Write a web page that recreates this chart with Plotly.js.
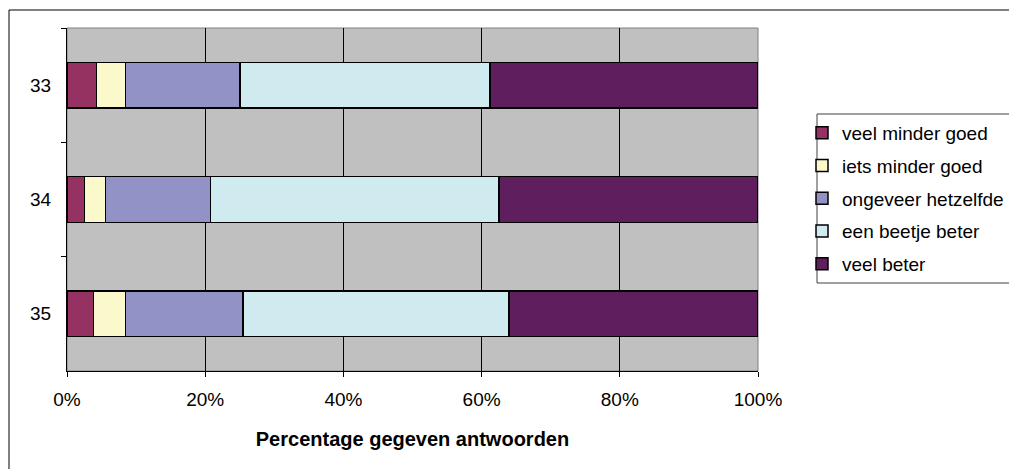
<!DOCTYPE html>
<html>
<head>
<meta charset="utf-8">
<script src="https://cdn.plot.ly/plotly-3.0.1.min.js"></script>
<style>
  html, body { margin: 0; padding: 0; background: #ffffff; }
  #chart { width: 1009px; height: 469px; }
</style>
</head>
<body>
<div id="chart"></div>
<script>
// Question numbers (one horizontal bar each)
const questions = ['33', '34', '35'];

// Answer categories, left to right in each bar
const answerLabels = ['veel minder goed', 'iets minder goed', 'ongeveer hetzelfde', 'een beetje beter', 'veel beter'];
const answerColors = ['#953262', '#FBF8CC', '#9292C6', '#CFEBEF', '#5F1F5F'];

// Share of answers (%) per category, ordered as questions
const veelMinderGoed = [4.3, 2.5, 3.8];
const ietsMinderGoed = [4.2, 3.1, 4.7];
const ongeveerHetzelfde = [16.5, 15.2, 17.0];
const eenBeetjeBeter = [36.2, 41.7, 38.5];
const veelBeter = [38.8, 37.5, 36.0];

const xTicks = [0, 20, 40, 60, 80, 100];
const xTickLabels = xTicks.map(v => v + '%');

const seriesValues = [veelMinderGoed, ietsMinderGoed, ongeveerHetzelfde, eenBeetjeBeter, veelBeter];

const FONT = 'Liberation Sans, Arial, Helvetica, sans-serif';

const traces = seriesValues.map((vals, i) => ({
  type: 'bar',
  orientation: 'h',
  name: answerLabels[i],
  legendgroup: 'g' + i,
  y: questions,
  x: vals,
  width: 0.4,
  marker: { color: answerColors[i], line: { color: '#000000', width: 1.5 } },
  hoverinfo: 'name+x'
}));

// plot area in pixels: left 67, right 758, top 28, bottom 371
const PX = v => (v - 67) / 691;
const PY = v => (371 - v) / 343;

const layout = {
  width: 1009,
  height: 469,
  margin: { l: 67, r: 251, t: 28, b: 98, pad: 0, autoexpand: false },
  paper_bgcolor: '#ffffff',
  plot_bgcolor: '#C0C0C0',
  barmode: 'stack',
  font: { family: FONT, color: '#000000', size: 18 },
  showlegend: true,
  legend: {
    x: PX(802), xanchor: 'left',
    y: PY(114), yanchor: 'top',
    bgcolor: 'rgba(0,0,0,0)',
    borderwidth: 0,
    traceorder: 'grouped',
    tracegroupgap: 5,
    font: { family: FONT, size: 19, color: '#000000' }
  },
  xaxis: {
    range: [0, 100],
    tickmode: 'array',
    tickvals: xTicks,
    ticktext: xTickLabels,
    showgrid: true,
    gridcolor: '#000000',
    gridwidth: 1,
    zeroline: false,
    showline: true,
    linecolor: '#000000',
    linewidth: 1,
    ticks: 'outside',
    ticklen: 5,
    tickcolor: '#000000',
    ticklabelstandoff: 6,
    tickfont: { family: FONT, size: 19, color: '#000000' },
    automargin: false,
    fixedrange: true,
    title: {
      text: '<b>Percentage gegeven antwoorden</b>',
      font: { family: FONT, size: 20, color: '#000000' },
      standoff: 23
    }
  },
  yaxis: {
    type: 'category',
    categoryorder: 'array',
    categoryarray: questions,
    range: [2.5, -0.5],
    showgrid: false,
    zeroline: false,
    showline: true,
    linecolor: '#000000',
    linewidth: 1,
    ticks: 'outside',
    tickson: 'boundaries',
    ticklen: 5,
    tickcolor: '#000000',
    ticklabelstandoff: 11,
    tickfont: { family: FONT, size: 19, color: '#000000' },
    automargin: false,
    fixedrange: true
  },
  shapes: [
    // outer chart frame
    { type: 'rect', xref: 'paper', yref: 'paper', x0: PX(9), x1: PX(1030), y0: PY(490), y1: PY(10),
      line: { color: '#000000', width: 1 }, fillcolor: 'rgba(0,0,0,0)', layer: 'below' },
    // plot area frame (top / right edges in grey)
    { type: 'rect', xref: 'paper', yref: 'paper', x0: 0, x1: 1, y0: 0, y1: 1,
      line: { color: '#808080', width: 1 }, fillcolor: 'rgba(0,0,0,0)', layer: 'below' },
    // legend frame
    { type: 'rect', xref: 'paper', yref: 'paper', x0: PX(817), x1: PX(1030), y0: PY(283), y1: PY(114),
      line: { color: '#404040', width: 1 }, fillcolor: 'rgba(0,0,0,0)', layer: 'above' }
  ]
};

Plotly.newPlot('chart', traces, layout, { staticPlot: true, displayModeBar: false });
</script>
</body>
</html>
